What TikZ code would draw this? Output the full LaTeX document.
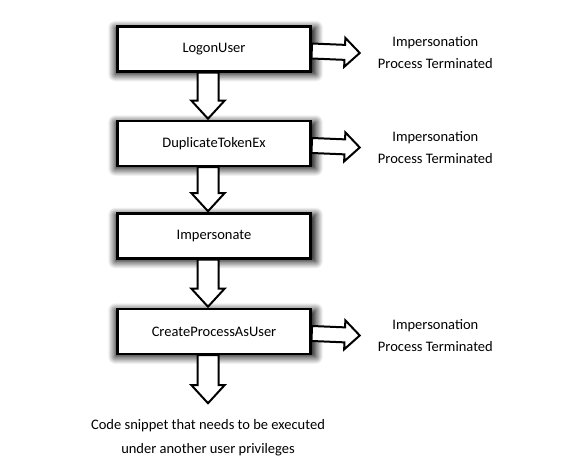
\documentclass[tikz,border=0pt]{standalone}
\usepackage{fontspec}
\setmainfont{Carlito}
\usetikzlibrary{positioning,calc,shadows.blur}
\tikzset{
  fatshaft/.store in=\fatshaft, fathead/.store in=\fathead, fatlen/.store in=\fatlen,
  fatshaft=10.5pt, fathead=16.5pt, fatlen=18pt,
  stepbox/.style={draw=black, line width=2.5pt, fill=white,
    minimum width=193pt, minimum height=45pt,
    blur shadow={shadow xshift=1.5pt, shadow yshift=-2pt, shadow scale=1.04,
      shadow blur radius=7pt, shadow blur steps=16, shadow opacity=100}},
  note/.style={align=center, inner sep=0pt},
  fatarrow/.style={draw=black, line width=2pt, fill=white, line join=miter,
    to path={($(\tikztostart)!\fatshaft!90:(\tikztotarget)$)
      -- ($($(\tikztotarget)!\fatlen!(\tikztostart)$)!\fatshaft!-90:(\tikztostart)$)
      -- ($($(\tikztotarget)!\fatlen!(\tikztostart)$)!\fathead!-90:(\tikztostart)$)
      -- (\tikztotarget)
      -- ($($(\tikztotarget)!\fatlen!(\tikztostart)$)!\fathead!90:(\tikztostart)$)
      -- ($($(\tikztotarget)!\fatlen!(\tikztostart)$)!\fatshaft!90:(\tikztostart)$)
      -- ($(\tikztostart)!\fatshaft!-90:(\tikztotarget)$) -- cycle}},
  sidearrow/.style={fatarrow, fatshaft=7.5pt, fathead=14.5pt, fatlen=15pt},
}
\begin{document}
\begin{tikzpicture}[font=\fontsize{14.5}{22}\selectfont]
  \useasboundingbox (0,0) rectangle (582pt,473pt);
  % the chain of calls
  \node[stepbox] (logon) at (214pt,424pt) {LogonUser};
  \node[stepbox, below=47pt of logon] (dup) {DuplicateTokenEx};
  \node[stepbox, below=45pt of dup] (imp) {Impersonate};
  \node[stepbox, below=48pt of imp] (create) {CreateProcessAsUser};
  \node[note, below=64pt of create, xshift=-6pt, font=\fontsize{14.5}{24}\selectfont] (code) {Code snippet that needs to be executed\\under another user privileges};

  % failure notes
  \node[note, right=66pt of logon, yshift=-4pt] (term1) {Impersonation\\Process Terminated};
  \node[note, right=66pt of dup, yshift=-4pt] (term2) {Impersonation\\Process Terminated};
  \node[note, right=66pt of create, yshift=-4pt] (term3) {Impersonation\\Process Terminated};

  \path[fatarrow] ([xshift=-6pt]logon.south) to ([xshift=-6pt,yshift=1pt]dup.north);
  \path[fatarrow] ([xshift=-6pt]dup.south) to ([xshift=-6pt,yshift=1pt]imp.north);
  \path[fatarrow] ([xshift=-6pt]imp.south) to ([xshift=-6pt,yshift=1pt]create.north);
  \path[fatarrow] ([xshift=-6pt]create.south) to ([yshift=16pt]code.north);

  \path[sidearrow] ([yshift=-2pt]logon.east) to ([xshift=-18pt]term1.west);
  \path[sidearrow] ([yshift=-2pt]dup.east) to ([xshift=-18pt]term2.west);
  \path[sidearrow] ([yshift=-2pt]create.east) to ([xshift=-18pt]term3.west);
\end{tikzpicture}
\end{document}
